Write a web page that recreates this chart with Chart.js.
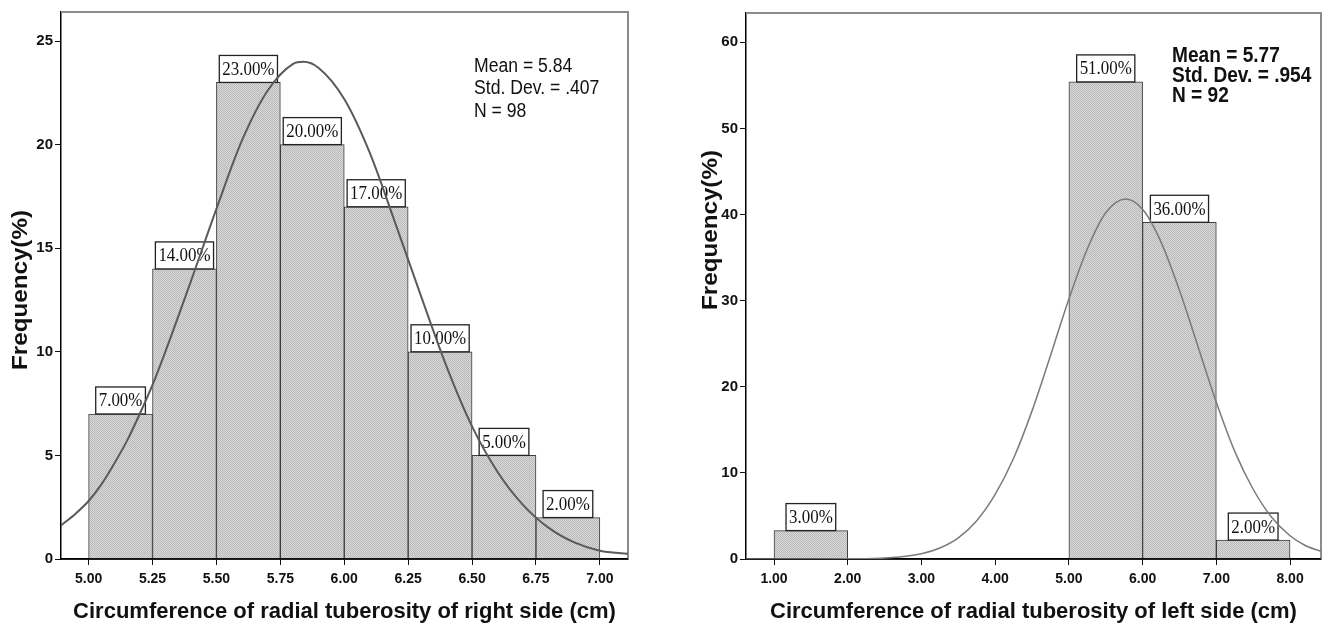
<!DOCTYPE html>
<html><head><meta charset="utf-8">
<script src="https://cdn.jsdelivr.net/npm/chart.js@4.4.1/dist/chart.umd.min.js"></script>
<style>
html,body{margin:0;padding:0;background:#fff;width:1333px;height:626px;overflow:hidden}
#w1{position:absolute;left:0;top:0;width:660px;height:626px}
#w2{position:absolute;left:660px;top:0;width:673px;height:626px}
canvas{display:block}
</style></head><body>
<div id="w1"><canvas id="c1" width="660" height="626"></canvas></div>
<div id="w2"><canvas id="c2" width="673" height="626"></canvas></div>
<script>
// ---- Right side (left panel) ----
const rsBinCenters = [5.125, 5.375, 5.625, 5.875, 6.125, 6.375, 6.625, 6.875];
const rsFreq = [7, 14, 23, 20, 17, 10, 5, 2];
const rsBarLabels = ['7.00%', '14.00%', '23.00%', '20.00%', '17.00%', '10.00%', '5.00%', '2.00%'];
const rsCurveX = [4.89, 4.95, 5.00, 5.05, 5.10, 5.15, 5.20, 5.25, 5.30, 5.40, 5.50, 5.60, 5.70, 5.80, 5.84, 5.90, 6.00, 6.10, 6.20, 6.30, 6.40, 6.50, 6.60, 6.70, 6.80, 6.90, 7.00, 7.11];
const rsCurveY = [1.6, 2.2, 2.8, 3.6, 4.6, 5.7, 7.0, 8.4, 10.0, 13.4, 16.9, 20.2, 22.6, 23.9, 24.0, 23.7, 22.2, 19.6, 16.2, 12.7, 9.3, 6.4, 4.2, 2.6, 1.5, 0.8, 0.4, 0.25];
const rsXTicks = [5.00, 5.25, 5.50, 5.75, 6.00, 6.25, 6.50, 6.75, 7.00];
const rsXTickLabels = ['5.00', '5.25', '5.50', '5.75', '6.00', '6.25', '6.50', '6.75', '7.00'];
const rsYTicks = [0, 5, 10, 15, 20, 25];
const rsStats = ['Mean = 5.84', 'Std. Dev. = .407', 'N = 98'];
const rsXTitle = 'Circumference of radial tuberosity of right side (cm)';

// ---- Left side (right panel) ----
const lsBinCenters = [1.5, 5.5, 6.5, 7.5];
const lsFreq = [3.3, 55.4, 39.1, 2.2];
const lsBarLabels = ['3.00%', '51.00%', '36.00%', '2.00%'];
const lsCurveX = [0.62, 1.5, 2.0, 2.5, 3.0, 3.25, 3.5, 3.75, 4.0, 4.25, 4.5, 4.75, 5.0, 5.25, 5.5, 5.77, 6.0, 6.25, 6.5, 6.75, 7.0, 7.25, 7.5, 7.75, 8.0, 8.2, 8.42];
const lsCurveY = [0, 0, 0.02, 0.12, 0.62, 1.28, 2.46, 4.45, 7.5, 11.7, 17.2, 23.6, 30.2, 36.0, 40.2, 41.8, 40.6, 36.8, 31.2, 24.7, 18.2, 12.5, 8.1, 4.85, 2.7, 1.6, 0.88];
const lsXTicks = [1, 2, 3, 4, 5, 6, 7, 8];
const lsXTickLabels = ['1.00', '2.00', '3.00', '4.00', '5.00', '6.00', '7.00', '8.00'];
const lsYTicks = [0, 10, 20, 30, 40, 50, 60];
const lsStats = ['Mean = 5.77', 'Std. Dev. = .954', 'N = 92'];
const lsXTitle = 'Circumference of radial tuberosity of left side (cm)';

const yTitle = 'Frequency(%)';
const SANS = '"Liberation Sans", Arial, Helvetica, sans-serif';
const SERIF = '"Liberation Serif", "Times New Roman", serif';

function makePattern() {
  const p = document.createElement('canvas'); p.width = 2; p.height = 2;
  const g = p.getContext('2d');
  g.fillStyle = '#dadada'; g.fillRect(0, 0, 2, 2);
  g.fillStyle = '#b8b8b8'; g.fillRect(0, 0, 1, 1); g.fillRect(1, 1, 1, 1);
  return g.createPattern(p, 'repeat');
}

function makePlugin(d) {
  return {
    id: 'deco',
    beforeDatasetsDraw(chart) {
      const a = chart.chartArea, ctx = chart.ctx;
      ctx.save();
      ctx.strokeStyle = '#8c8c8c'; ctx.lineWidth = 2;
      ctx.beginPath();
      ctx.moveTo(a.left, a.top); ctx.lineTo(a.right, a.top); ctx.lineTo(a.right, a.bottom);
      ctx.stroke();
      ctx.restore();
    },
    afterDatasetDraw(chart, args) {
      if (args.index !== 0) return;
      const a = chart.chartArea, ctx = chart.ctx;
      ctx.save();
      ctx.strokeStyle = '#000'; ctx.lineWidth = 1.5;
      ctx.beginPath(); ctx.moveTo(a.left, a.bottom); ctx.lineTo(a.right, a.bottom); ctx.stroke();
      ctx.font = '18px ' + SERIF;
      ctx.textAlign = 'center'; ctx.textBaseline = 'middle';
      args.meta.data.forEach((bar, i) => {
        const t = d.barLabels[i];
        const w = ctx.measureText(t).width * 0.94 + 6, h = 27;
        const x = bar.x, y = bar.y;
        ctx.fillStyle = '#fff'; ctx.fillRect(x - w / 2, y - h, w, h);
        ctx.strokeStyle = '#222'; ctx.lineWidth = 1.3; ctx.strokeRect(x - w / 2, y - h, w, h);
        ctx.fillStyle = '#111';
        ctx.save();
        ctx.translate(x, y - h / 2 + 1);
        ctx.scale(0.94, 1.05);
        ctx.fillText(t, 0, 0);
        ctx.restore();
      });
      ctx.restore();
    },
    afterDraw(chart) {
      const a = chart.chartArea, ctx = chart.ctx;
      ctx.save();
      ctx.fillStyle = '#111';
      ctx.font = d.statFont;
      ctx.textAlign = 'left'; ctx.textBaseline = 'alphabetic';
      d.stats.forEach((s, i) => {
        ctx.save();
        ctx.translate(a.right - d.statDX, a.top + d.statDY + i * d.statGap);
        ctx.scale(d.statSX, 1.05);
        ctx.fillText(s, 0, 0);
        ctx.restore();
      });
      // y title
      ctx.save();
      ctx.translate(d.yTitleX, d.yTitleY);
      ctx.rotate(-Math.PI / 2);
      ctx.scale(1.1, 1);
      ctx.font = 'bold 22px ' + SANS;
      ctx.textAlign = 'center'; ctx.textBaseline = 'middle';
      ctx.fillText(yTitle, 0, 0);
      ctx.restore();
      ctx.restore();
    }
  };
}

function buildChart(id, d) {
  const pattern = makePattern();
  new Chart(document.getElementById(id), {
    type: 'bar',
    data: {
      datasets: [
        {
          type: 'bar',
          data: d.centers.map((c, i) => ({ x: c, y: d.freq[i] })),
          backgroundColor: pattern, borderColor: '#3c3c3c', borderWidth: 1,
          categoryPercentage: 1, barPercentage: 1, order: 2
        },
        {
          type: 'line',
          data: d.cx.map((x, i) => ({ x: x, y: d.cy[i] })),
          borderColor: d.curveColor, borderWidth: d.curveWidth,
          pointRadius: 0, cubicInterpolationMode: 'monotone', fill: false, order: 1
        }
      ]
    },
    options: {
      responsive: false, animation: false,
      layout: { padding: { left: 0, right: d.padRight, top: d.padTop, bottom: 0 } },
      plugins: { legend: { display: false }, tooltip: { enabled: false } },
      scales: {
        x: {
          type: 'linear', min: d.xmin, max: d.xmax, offset: false,
          afterBuildTicks: s => { s.ticks = d.xTicks.map(v => ({ value: v })); },
          afterFit: s => { s.height = 67; },
          ticks: {
            callback: (v, i) => d.xTickLabels[i],
            font: { family: SANS, size: 14, weight: 'bold' }, color: '#111',
            padding: 6, maxRotation: 0, autoSkip: false
          },
          grid: { display: true, drawOnChartArea: false, drawTicks: true, tickLength: 6, color: '#111', offset: false },
          border: { display: true, color: '#000', width: 1.5 },
          title: { display: true, text: d.xTitle, font: { family: SANS, size: 22, weight: 'bold' }, color: '#111', padding: { top: 0, bottom: 1 } }
        },
        y: {
          type: 'linear', min: 0, max: d.ymax,
          afterBuildTicks: s => { s.ticks = d.yTicks.map(v => ({ value: v })); },
          afterFit: s => { s.width = d.yWidth; },
          ticks: {
            callback: v => String(v),
            font: { family: SANS, size: 15, weight: 'bold' }, color: '#111', padding: 2
          },
          grid: { display: true, drawOnChartArea: false, drawTicks: true, tickLength: 6, color: '#111' },
          border: { display: true, color: '#000', width: 1.5 }
        }
      }
    },
    plugins: [makePlugin(d)]
  });
}

buildChart('c1', {
  centers: rsBinCenters, freq: rsFreq, barLabels: rsBarLabels,
  cx: rsCurveX, cy: rsCurveY, xTicks: rsXTicks, xTickLabels: rsXTickLabels, yTicks: rsYTicks,
  stats: rsStats, xTitle: rsXTitle,
  xmin: 4.892, xmax: 7.11, ymax: 26.4,
  padRight: 32, padTop: 12, yWidth: 61,
  curveColor: '#5a5a5a', curveWidth: 2,
  statFont: '20px ' + SANS, statSX: 0.88, statDX: 154, statDY: 60, statGap: 22.3,
  yTitleX: 21, yTitleY: 290
});

buildChart('c2', {
  centers: lsBinCenters, freq: lsFreq, barLabels: lsBarLabels,
  cx: lsCurveX, cy: lsCurveY, xTicks: lsXTicks, xTickLabels: lsXTickLabels, yTicks: lsYTicks,
  stats: lsStats, xTitle: lsXTitle,
  xmin: 0.62, xmax: 8.42, ymax: 63.4,
  padRight: 12, padTop: 13, yWidth: 86,
  curveColor: '#7a7a7a', curveWidth: 1.5,
  statFont: 'bold 21px ' + SANS, statSX: 0.91, statDX: 149, statDY: 49, statGap: 20,
  yTitleX: 51, yTitleY: 230
});
</script>
</body></html>
